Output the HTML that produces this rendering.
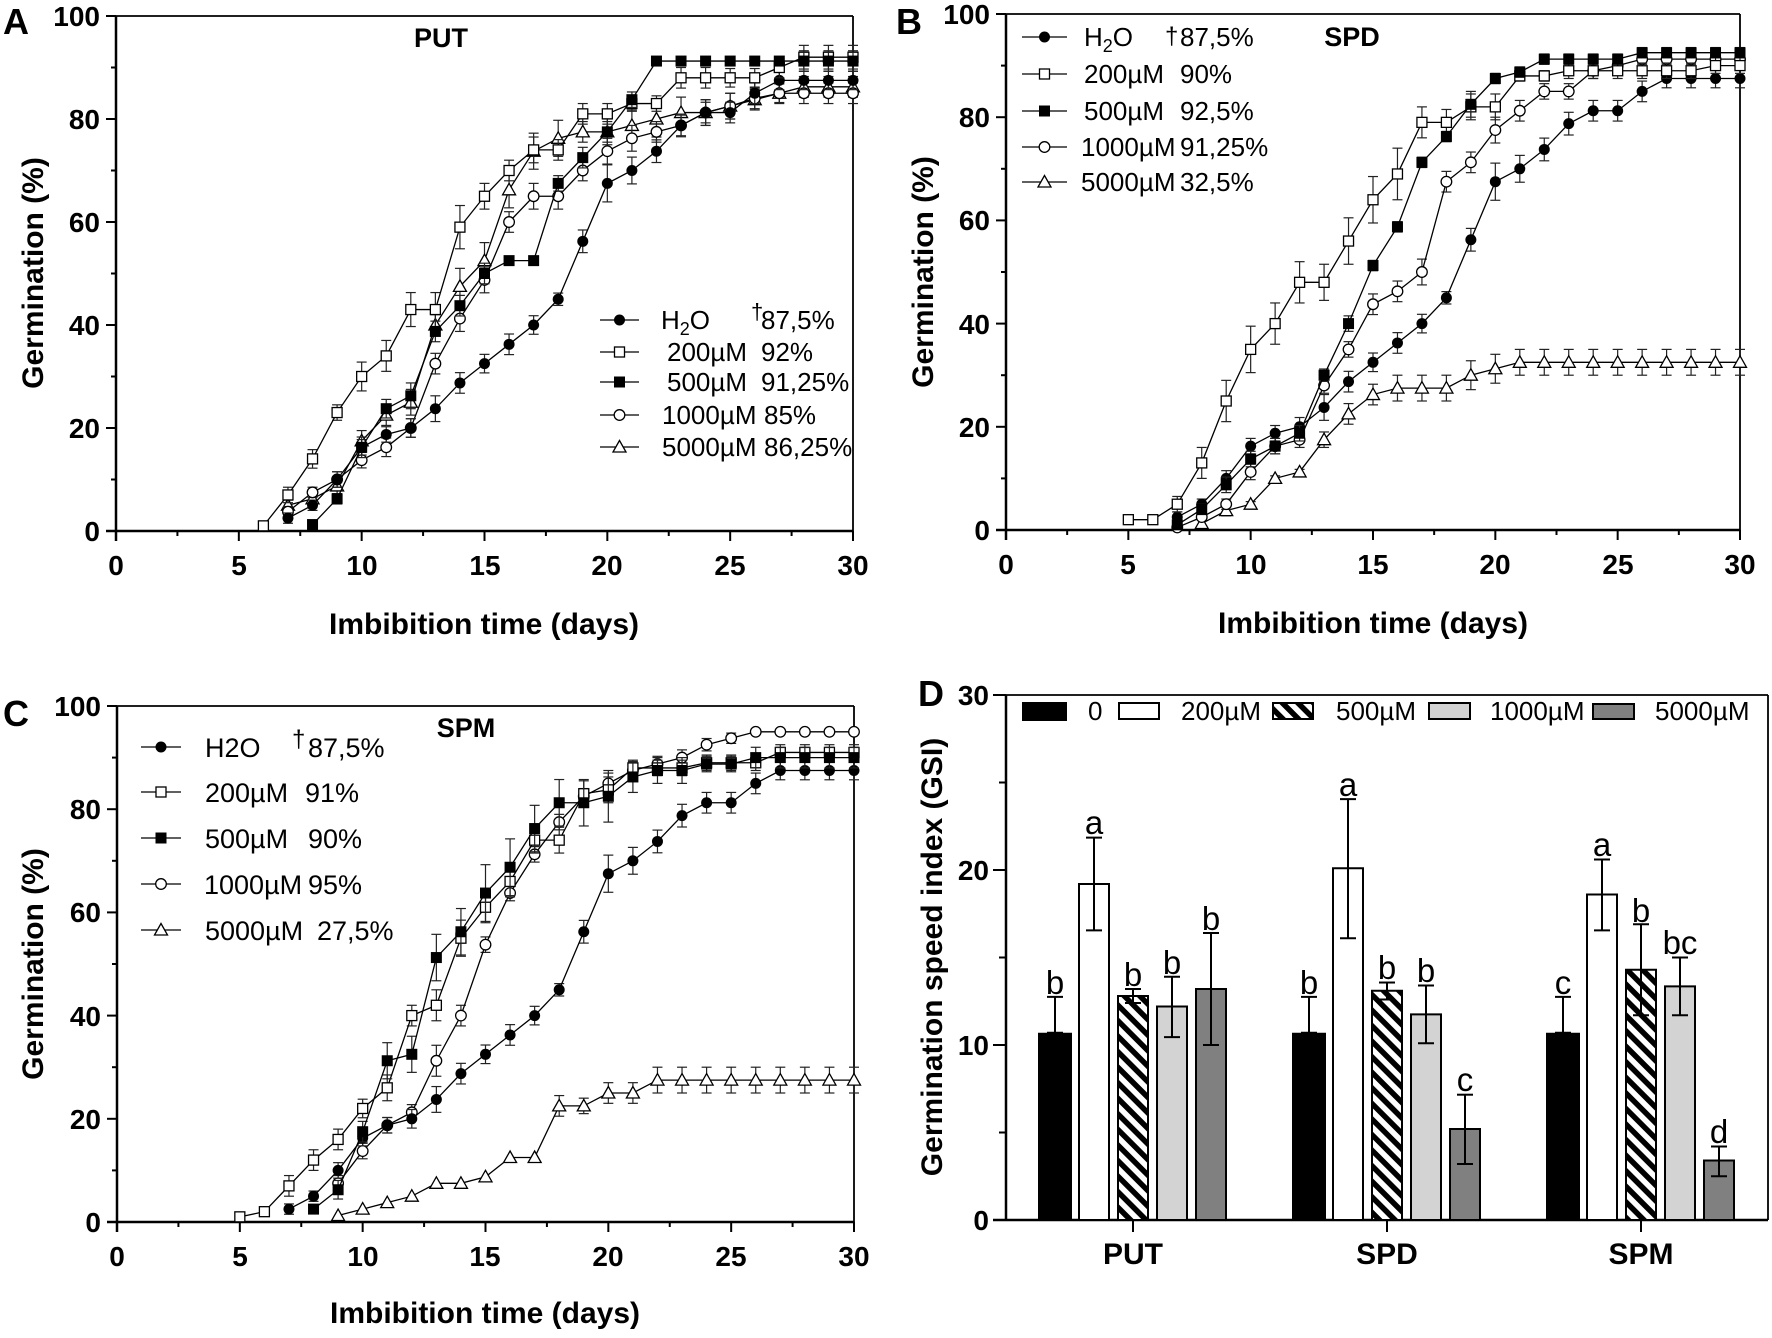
<!DOCTYPE html>
<html><head><meta charset="utf-8">
<style>
html,body{margin:0;padding:0;background:#fff;}
svg{display:block;}
text{font-family:"Liberation Sans",Arial,sans-serif;fill:#000;}
.pl{font-size:36px;font-weight:bold;}
.tk{font-size:28px;font-weight:bold;}
.lab{font-size:30px;font-weight:bold;}
.ttl{font-size:27px;font-weight:bold;}
.lg{font-size:26px;}
.lgc{font-size:27px;}
.let{font-size:33px;}
</style></head><body>
<svg id="s" width="1772" height="1338" viewBox="0 0 1772 1338" xmlns="http://www.w3.org/2000/svg">
<defs>
<pattern id="hatch" patternUnits="userSpaceOnUse" width="11" height="11" patternTransform="rotate(-45)">
<rect x="0" y="0" width="11" height="11" fill="#fff"/>
<rect x="0" y="0" width="5.5" height="11" fill="#000"/>
</pattern>
</defs>
<rect x="0" y="0" width="1772" height="1338" fill="#fff"/>

<!-- Panel letters -->
<text class="pl" x="3" y="34">A</text>
<text class="pl" x="896" y="34">B</text>
<text class="pl" x="3" y="726">C</text>
<text class="pl" x="918" y="706">D</text>

<!-- Panel A labels -->
<text class="tk" text-anchor="end" x="100" y="541">0</text>
<text class="tk" text-anchor="end" x="100" y="438">20</text>
<text class="tk" text-anchor="end" x="100" y="335">40</text>
<text class="tk" text-anchor="end" x="100" y="232">60</text>
<text class="tk" text-anchor="end" x="100" y="129">80</text>
<text class="tk" text-anchor="end" x="100" y="26">100</text>
<text class="tk" text-anchor="middle" x="116" y="575">0</text>
<text class="tk" text-anchor="middle" x="239" y="575">5</text>
<text class="tk" text-anchor="middle" x="362" y="575">10</text>
<text class="tk" text-anchor="middle" x="485" y="575">15</text>
<text class="tk" text-anchor="middle" x="607" y="575">20</text>
<text class="tk" text-anchor="middle" x="730" y="575">25</text>
<text class="tk" text-anchor="middle" x="853" y="575">30</text>
<text class="lab" text-anchor="middle" x="484" y="634">Imbibition time (days)</text>
<text class="lab" text-anchor="middle" transform="translate(33,273) rotate(-90)" y="10">Germination (%)</text>
<text class="ttl" text-anchor="middle" x="441" y="47">PUT</text>
<text class="lg" x="661" y="329">H<tspan font-size="18" dy="6">2</tspan><tspan dy="-6">O</tspan></text>
<text font-size="22" x="751" y="319">†</text>
<text class="lg" x="761" y="329">87,5%</text>
<text class="lg" x="667" y="361">200µM</text><text class="lg" x="761" y="361">92%</text>
<text class="lg" x="667" y="391">500µM</text><text class="lg" x="761" y="391">91,25%</text>
<text class="lg" x="662" y="424">1000µM</text><text class="lg" x="764" y="424">85%</text>
<text class="lg" x="662" y="456">5000µM</text><text class="lg" x="764" y="456">86,25%</text>

<!-- Panel B labels -->
<text class="tk" text-anchor="end" x="990" y="540">0</text>
<text class="tk" text-anchor="end" x="990" y="437">20</text>
<text class="tk" text-anchor="end" x="990" y="334">40</text>
<text class="tk" text-anchor="end" x="990" y="230">60</text>
<text class="tk" text-anchor="end" x="990" y="127">80</text>
<text class="tk" text-anchor="end" x="990" y="24">100</text>
<text class="tk" text-anchor="middle" x="1006" y="574">0</text>
<text class="tk" text-anchor="middle" x="1128" y="574">5</text>
<text class="tk" text-anchor="middle" x="1251" y="574">10</text>
<text class="tk" text-anchor="middle" x="1373" y="574">15</text>
<text class="tk" text-anchor="middle" x="1495" y="574">20</text>
<text class="tk" text-anchor="middle" x="1618" y="574">25</text>
<text class="tk" text-anchor="middle" x="1740" y="574">30</text>
<text class="lab" text-anchor="middle" x="1373" y="633">Imbibition time (days)</text>
<text class="lab" text-anchor="middle" transform="translate(923,272) rotate(-90)" y="10">Germination (%)</text>
<text class="ttl" text-anchor="middle" x="1352" y="46">SPD</text>
<text class="lg" x="1084" y="46">H<tspan font-size="18" dy="6">2</tspan><tspan dy="-6">O</tspan></text>
<text font-size="24" x="1165" y="44">†</text>
<text class="lg" x="1180" y="46">87,5%</text>
<text class="lg" x="1084" y="83">200µM</text><text class="lg" x="1180" y="83">90%</text>
<text class="lg" x="1084" y="120">500µM</text><text class="lg" x="1180" y="120">92,5%</text>
<text class="lg" x="1081" y="156">1000µM</text><text class="lg" x="1180" y="156">91,25%</text>
<text class="lg" x="1081" y="191">5000µM</text><text class="lg" x="1180" y="191">32,5%</text>

<!-- Panel C labels -->
<text class="tk" text-anchor="end" x="101" y="1232">0</text>
<text class="tk" text-anchor="end" x="101" y="1129">20</text>
<text class="tk" text-anchor="end" x="101" y="1026">40</text>
<text class="tk" text-anchor="end" x="101" y="922">60</text>
<text class="tk" text-anchor="end" x="101" y="819">80</text>
<text class="tk" text-anchor="end" x="101" y="716">100</text>
<text class="tk" text-anchor="middle" x="117" y="1266">0</text>
<text class="tk" text-anchor="middle" x="240" y="1266">5</text>
<text class="tk" text-anchor="middle" x="363" y="1266">10</text>
<text class="tk" text-anchor="middle" x="485" y="1266">15</text>
<text class="tk" text-anchor="middle" x="608" y="1266">20</text>
<text class="tk" text-anchor="middle" x="731" y="1266">25</text>
<text class="tk" text-anchor="middle" x="854" y="1266">30</text>
<text class="lab" text-anchor="middle" x="485" y="1323">Imbibition time (days)</text>
<text class="lab" text-anchor="middle" transform="translate(33,964) rotate(-90)" y="10">Germination (%)</text>
<text class="ttl" text-anchor="middle" x="466" y="737">SPM</text>
<text class="lgc" x="205" y="757">H2O</text>
<text font-size="24" x="292" y="747">†</text>
<text class="lgc" x="308" y="757">87,5%</text>
<text class="lgc" x="205" y="802">200µM</text><text class="lgc" x="305" y="802">91%</text>
<text class="lgc" x="205" y="848">500µM</text><text class="lgc" x="308" y="848">90%</text>
<text class="lgc" x="204" y="894">1000µM</text><text class="lgc" x="308" y="894">95%</text>
<text class="lgc" x="205" y="940">5000µM</text><text class="lgc" x="317" y="940">27,5%</text>

<!-- Panel D labels -->
<text class="tk" text-anchor="end" x="989" y="1230">0</text>
<text class="tk" text-anchor="end" x="989" y="1055">10</text>
<text class="tk" text-anchor="end" x="989" y="880">20</text>
<text class="tk" text-anchor="end" x="989" y="705">30</text>
<text class="lab" text-anchor="middle" x="1133" y="1264">PUT</text>
<text class="lab" text-anchor="middle" x="1387" y="1264">SPD</text>
<text class="lab" text-anchor="middle" x="1641" y="1264">SPM</text>
<text class="lab" text-anchor="middle" transform="translate(932,957) rotate(-90)" y="10">Germination speed index (GSI)</text>
<text class="lg" x="1088" y="720">0</text>
<text class="lg" x="1181" y="720">200µM</text>
<text class="lg" x="1336" y="720">500µM</text>
<text class="lg" x="1490" y="720">1000µM</text>
<text class="lg" x="1655" y="720">5000µM</text>
<!-- significance letters -->
<text class="let" text-anchor="middle" x="1055" y="994">b</text>
<text class="let" text-anchor="middle" x="1094" y="834">a</text>
<text class="let" text-anchor="middle" x="1133" y="986">b</text>
<text class="let" text-anchor="middle" x="1172" y="974">b</text>
<text class="let" text-anchor="middle" x="1211" y="930">b</text>
<text class="let" text-anchor="middle" x="1309" y="994">b</text>
<text class="let" text-anchor="middle" x="1348" y="796">a</text>
<text class="let" text-anchor="middle" x="1387" y="979">b</text>
<text class="let" text-anchor="middle" x="1426" y="982">b</text>
<text class="let" text-anchor="middle" x="1465" y="1091">c</text>
<text class="let" text-anchor="middle" x="1563" y="994">c</text>
<text class="let" text-anchor="middle" x="1602" y="856">a</text>
<text class="let" text-anchor="middle" x="1641" y="922">b</text>
<text class="let" text-anchor="middle" x="1680" y="954">bc</text>
<text class="let" text-anchor="middle" x="1719" y="1143">d</text>
</svg>
<script>
(function(){
var S=document.getElementById('s');
function E(t,a){var e=document.createElementNS('http://www.w3.org/2000/svg',t);for(var k in a)e.setAttribute(k,a[k]);S.appendChild(e);return e;}
function L(x1,y1,x2,y2,w,c){return E('line',{x1:x1,y1:y1,x2:x2,y2:y2,stroke:c||'#000','stroke-width':w||2});}
function M(t,x,y){
  if(t=='fc')E('circle',{cx:x,cy:y,r:5.5,fill:'#000'});
  else if(t=='oc')E('circle',{cx:x,cy:y,r:5.3,fill:'#fff',stroke:'#000','stroke-width':1.3});
  else if(t=='fs')E('rect',{x:x-5.5,y:y-5.5,width:11,height:11,fill:'#000'});
  else if(t=='os')E('rect',{x:x-5,y:y-5,width:10,height:10,fill:'#fff',stroke:'#000','stroke-width':1.3});
  else if(t=='ot')E('polygon',{points:x+','+(y-6.5)+' '+(x+6.5)+','+(y+5)+' '+(x-6.5)+','+(y+5),fill:'#fff',stroke:'#000','stroke-width':1.3});
}
function axes(P){
  L(P.x0,P.y1,P.x0,P.y0+10,2.5);
  L(P.x0-10,P.y0,P.x1,P.y0,2.5);
  L(P.x0,P.y1,P.x1,P.y1,1.8);
  L(P.x1,P.y1,P.x1,P.y0,1.8);
  for(var v=10;v<=100;v+=10){var y=P.y0-v*(P.y0-P.y1)/100;L((v%20)?P.x0-5:P.x0-10,y,P.x0,y,2);}
  for(var d=2.5;d<=30;d+=2.5){var x=P.x0+d*(P.x1-P.x0)/30;L(x,P.y0,x,P.y0+((d%5)?5:10),2);}
}
function series(P,m,d){
  var k=(P.y0-P.y1)/100;
  function X(v){return P.x0+v*(P.x1-P.x0)/30;}
  function Y(v){return P.y0-v*k;}
  d.forEach(function(p){var e=(p[2]||0)*k;if(e>1.5){var x=X(p[0]),y=Y(p[1]);L(x,y-e,x,y+e,1.2,'#222');L(x-5,y-e,x+5,y-e,1.2,'#222');L(x-5,y+e,x+5,y+e,1.2,'#222');}});
  E('polyline',{points:d.map(function(p){return X(p[0])+','+Y(p[1]);}).join(' '),fill:'none',stroke:'#000','stroke-width':1.3});
  d.forEach(function(p){M(m,X(p[0]),Y(p[1]));});
}
function F(a,b,v,e){var r=[];for(var i=a;i<=b;i++)r.push([i,v,e]);return r;}
function leg(x1,x2,y,m){L(x1,y,x2,y,1.3);M(m,(x1+x2)/2,y);}

var H2O=[[7,2.5,1],[8,5,1],[9,10,1.5],[10,16.25,1.5],[11,18.75,1.5],[12,20,1.8],[13,23.75,2.5],[14,28.75,2],[15,32.5,1.8],[16,36.25,2],[17,40,1.8],[18,45,1.2],[19,56.25,2.2],[20,67.5,3.6],[21,70,2.6],[22,73.75,2.2],[23,78.75,2.2],[24,81.25,2],[25,81.25,2],[26,85,2],[27,87.5,1.8],[28,87.5,1.8],[29,87.5,1.8],[30,87.5,1.8]];

/* Panel A */
var A={x0:116,x1:853,y0:531,y1:16};
axes(A);
series(A,'ot',[[7,5,1],[8,6.25,1],[9,8.75,1.5],[10,17.5,2],[11,22.5,2],[12,25,2.5],[13,40,2],[14,47.5,3.5],[15,52.5,3.5],[16,66.25,3.5],[17,73.75,3.5],[18,76.25,3.5],[19,77.5,2],[20,77.5,2.5],[21,78.75,3],[22,80,3.5],[23,81.25,3],[24,81.25,2.5],[25,82.5,2.5],[26,83.75,2],[27,85,1.8],[28,86.25,2],[29,86.25,2],[30,86.25,2]]);
series(A,'oc',[[7,3.75,1],[8,7.5,1],[9,10,1.5],[10,13.75,1.5],[11,16.25,1.8],[12,20,1.8],[13,32.5,2],[14,41.25,2.5],[15,48.75,2.5],[16,60,2],[17,65,2.5],[18,65,2.5],[19,70,2],[20,73.75,2.5],[21,76.25,2.5],[22,77.5,2],[23,78.75,2],[24,81.25,2.5],[25,82.5,2.5],[26,84,2],[27,85,2],[28,85,2],[29,85,2],[30,85,2]]);
series(A,'fc',H2O);
series(A,'os',[[6,1,0],[7,7,1.5],[8,14,1.8],[9,23,1.5],[10,30,2.8],[11,34,3],[12,43,3.3],[13,43,3.3],[14,59,4.2],[15,65,2.5],[16,70,2],[17,74,2.5],[18,74,2],[19,81,2],[20,81,2],[21,83,1.5],[22,83,1.5],[23,88,2],[24,88,2],[25,88,1.8],[26,88,1.8],[27,90,2],[28,92,2.3],[29,92,2.3],[30,92,2.3]]);
series(A,'fs',[[8,1.25,0],[9,6.25,1],[10,16.25,2],[11,23.75,1.8],[12,26.25,2.5],[13,38.75,2],[14,43.75,2],[15,50,2],[16,52.5,0],[17,52.5,0]].concat([[18,67.5,1.5],[19,72.5,2],[20,77.5,2],[21,83.75,1.5]],F(22,27,91.25,0),F(28,30,91.25,2)));
leg(600,639,320,'fc');leg(600,639,352,'os');leg(600,639,382,'fs');leg(600,639,415,'oc');leg(600,639,447,'ot');

/* Panel B */
var B={x0:1006,x1:1740,y0:530,y1:14};
axes(B);
series(B,'ot',[[8,1.25,0],[9,3.75,1],[10,5,0.5],[11,10,0.5],[12,11.25,0.5],[13,17.5,1.5],[14,22.5,2],[15,26.25,2],[16,27.5,2.5],[17,27.5,2.5],[18,27.5,2.5],[19,30,2.8],[20,31.25,2.8]].concat(F(21,30,32.5,2.5)));
series(B,'oc',[[7,0.5,0],[8,2.5,0.5],[9,5,1],[10,11.25,1.5],[11,16.25,1.5],[12,17.5,1.5],[13,28,1.5],[14,35,1.5],[15,43.75,2],[16,46.25,2],[17,50,2.5],[18,67.5,2],[19,71.25,2],[20,77.5,2.5],[21,81.25,2],[22,85,1.5],[23,85,1.5],[24,89,1.5],[25,90,1.5]].concat(F(26,30,91.25,1)));
series(B,'fc',H2O);
series(B,'os',[[5,2,0],[6,2,0],[7,5,1.5],[8,13,3],[9,25,4],[10,35,4.5],[11,40,4],[12,48,4],[13,48,3.5],[14,56,4.5],[15,64,4.5],[16,69,5],[17,79,3],[18,79,2.5],[19,82,2.5],[20,82,2.5],[21,88,1],[22,88,1]].concat(F(23,28,89,1.5),F(29,30,90,1.5)));
series(B,'fs',[[7,1,0],[8,4,1],[9,8.75,1.5],[10,13.75,1.5],[11,16.25,1.5],[12,18.75,1.5],[13,30,1.2],[14,40,1.5],[15,51.25,1],[16,58.75,1],[17,71.25,1],[18,76.25,1],[19,82.5,2.5],[20,87.5,1],[21,88.75,1]].concat(F(22,25,91.25,1),F(26,30,92.5,1)));
leg(1022,1067,37,'fc');leg(1022,1067,74,'os');leg(1022,1067,111,'fs');leg(1022,1067,147,'oc');leg(1022,1067,182,'ot');

/* Panel C */
var C={x0:117,x1:854,y0:1222,y1:706};
axes(C);
series(C,'ot',[[9,1.25,0],[10,2.5,0],[11,3.75,0],[12,5,0],[13,7.5,0],[14,7.5,0],[15,8.75,0],[16,12.5,0],[17,12.5,0],[18,22.5,2],[19,22.5,1.5],[20,25,2],[21,25,2]].concat(F(22,30,27.5,2.5)));
series(C,'oc',[[9,7.5,1.5],[10,13.75,1.5],[11,18.75,1.5],[12,21.25,1.5],[13,31.25,3],[14,40,2],[15,53.75,1.5],[16,63.75,1.5],[17,71.25,1.5],[18,77.5,1.5],[19,82.5,1.5],[20,85,2],[21,87.5,1.5],[22,88.75,1.5],[23,90,1.5],[24,92.5,1.2],[25,93.75,1]].concat(F(26,30,95,0)));
series(C,'fc',H2O);
series(C,'os',[[5,1,0],[6,2,0],[7,7,2],[8,12,2],[9,16,2],[10,22,1.8],[11,26,2.5],[12,40,2],[13,42,3],[14,55,3.5],[15,61,3],[16,66,3],[17,74,2.5],[18,74,2.5],[19,83,2.5],[20,83.75,2.5],[21,88,1.5],[22,88,1.5],[23,88,1.5],[24,89,1.5],[25,89,1.5],[26,89,1.5]].concat(F(27,30,91,1.5)));
series(C,'fs',[[8,2.5,0],[9,6.25,1.8],[10,17.5,2],[11,31.25,3.5],[12,32.5,3.5],[13,51.25,4.5],[14,56.25,4.5],[15,63.75,5.5],[16,68.75,5.5],[17,76.25,4.5],[18,81.25,4.5],[19,81.25,4.5],[20,82.5,5],[21,86.25,3],[22,87.5,2.5],[23,87.5,2.5],[24,88.75,1.5],[25,88.75,1.5]].concat(F(26,30,90,2)));
leg(141,181,747,'fc');leg(141,181,792,'os');leg(141,181,838,'fs');leg(141,181,884,'oc');leg(141,181,930,'ot');

/* Panel D */
var y0=1220,k=17.5;
L(1006,695,1006,1220,2.5);
L(993,1220,1768,1220,2.5);
L(1006,695,1768,695,1.8);
L(1768,695,1768,1220,1.8);
[10,20,30].forEach(function(v){L(993,y0-v*k,1006,y0-v*k,2);});
[5,15,25].forEach(function(v){L(999,y0-v*k,1006,y0-v*k,2);});
[1133,1387,1641].forEach(function(x){L(x,1220,x,1232,2);});
var fills=['#000','#fff','url(#hatch)','#d3d3d3','#808080'];
var vals=[[10.7,19.2,12.8,12.2,13.2],[10.7,20.1,13.1,11.75,5.2],[10.7,18.6,14.3,13.35,3.4]];
var errs=[[[10.7,12.75],[16.55,21.85],[12.4,13.2],[10.45,13.9],[10,16.4]],
          [[10.7,12.75],[16.1,24.05],[12.6,13.57],[10.1,13.4],[3.2,7.16]],
          [[10.7,12.75],[16.55,20.6],[11.7,16.9],[11.7,15.0],[2.5,4.2]]];
for(var g=0;g<3;g++){
  var G=1133+254*g;
  for(var i=0;i<5;i++){
    var c=G+(i-2)*39, v=vals[g][i], top=y0-v*k;
    if(i==0)E('rect',{x:c-17,y:top,width:34,height:y0-top,fill:'#000'});
    else E('rect',{x:c-15,y:top,width:30,height:y0-top,fill:fills[i],stroke:'#000','stroke-width':2});
    var lo=y0-errs[g][i][0]*k, hi=y0-errs[g][i][1]*k;
    L(c,lo,c,hi,2);L(c-8,hi,c+8,hi,2);L(c-8,lo,c+8,lo,2);
  }
}
/* D legend swatches */
E('rect',{x:1022,y:702,width:45,height:19,fill:'#000'});
E('rect',{x:1119,y:703,width:40,height:16,fill:'#fff',stroke:'#000','stroke-width':2});
E('rect',{x:1273,y:703,width:40,height:16,fill:'url(#hatch)',stroke:'#000','stroke-width':2});
E('rect',{x:1429,y:703,width:41,height:16,fill:'#d3d3d3',stroke:'#000','stroke-width':2});
E('rect',{x:1593,y:704,width:41,height:15,fill:'#808080',stroke:'#000','stroke-width':2});
})();
</script>
</body></html>
